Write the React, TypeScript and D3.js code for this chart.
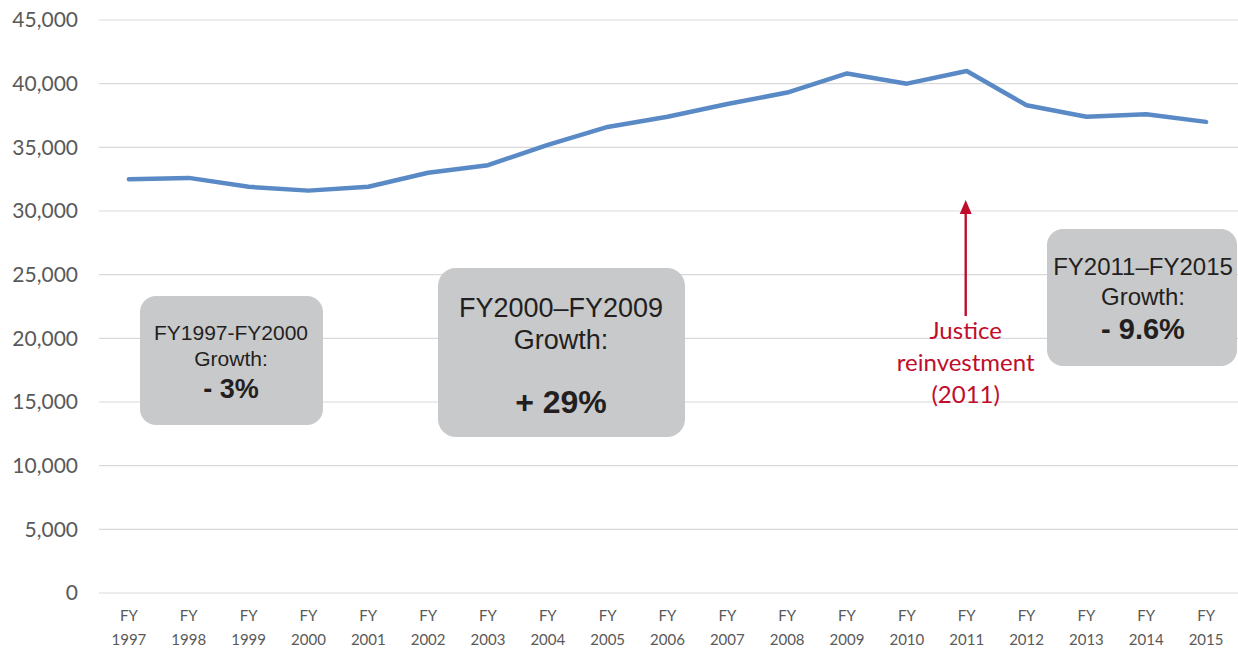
import React from 'react';
import * as d3 from 'd3';

const years = [
  '1997', '1998', '1999', '2000', '2001', '2002', '2003', '2004', '2005', '2006',
  '2007', '2008', '2009', '2010', '2011', '2012', '2013', '2014', '2015',
];
const population = [
  32500, 32600, 31900, 31600, 31900, 33000, 33600, 35200, 36600, 37400,
  38400, 39300, 40800, 40000, 41000, 38300, 37400, 37600, 37000,
];
const yTicks = [0, 5000, 10000, 15000, 20000, 25000, 30000, 35000, 40000, 45000];

const width = 1238;
const height = 651;
const margin = { top: 20, right: 2, bottom: 58, left: 99 };

const boxFill = '#c8c9cb';
const boxText = '#231f20';
const red = '#c00d2b';

const App: React.FC = () => {
  const x = d3
    .scaleBand()
    .domain(years)
    .range([margin.left, width - margin.right])
    .padding(0);

  const y = d3
    .scaleLinear()
    .domain([0, 45000])
    .range([height - margin.bottom, margin.top]);

  const cx = (yr: string) => (x(yr) || 0) + x.bandwidth() / 2;

  const line = d3
    .line<number>()
    .x((_, i) => cx(years[i]))
    .y((d) => y(d));

  const fmt = d3.format(',');
  const arrowX = cx('2011') - 1;
  const tipY = 200;

  return (
    <div style={{ position: 'absolute', left: 0, top: 0 }}>
      <svg width={width} height={height} style={{ display: 'block', background: '#fff' }}>
        {/* gridlines + y labels */}
        {yTicks.map((t) => (
          <g key={t}>
            <line x1={margin.left} x2={width} y1={y(t)} y2={y(t)} stroke="#d9d9d9" strokeWidth={1.2} />
            <text
              x={78}
              y={y(t)}
              dy="0.35em"
              textAnchor="end"
              fontFamily="Lato, 'Open Sans', sans-serif"
              fontSize={21}
              fill="#595959"
            >
              {fmt(t)}
            </text>
          </g>
        ))}

        {/* x labels */}
        {years.map((yr) => (
          <text key={yr} x={cx(yr)} textAnchor="middle" fontFamily="Lato, 'Open Sans', sans-serif" fontSize={15} fill="#595959">
            <tspan x={cx(yr)} y={621}>FY</tspan>
            <tspan x={cx(yr)} y={645}>{yr}</tspan>
          </text>
        ))}

        {/* data line */}
        <path d={line(population) || ''} fill="none" stroke="#5a8ac6" strokeWidth={4.5} strokeLinejoin="round" strokeLinecap="round" />

        {/* box 1 */}
        <rect x={140} y={296} width={183} height={129} rx={16} fill={boxFill} />
        <text textAnchor="middle" fontFamily="'Liberation Sans', Arial, sans-serif" fill={boxText}>
          <tspan x={231} y={340} fontSize={21}>FY1997-FY2000</tspan>
          <tspan x={231} y={366} fontSize={21}>Growth:</tspan>
          <tspan x={231} y={398} fontSize={27} fontWeight="bold">- 3%</tspan>
        </text>

        {/* box 2 */}
        <rect x={438} y={268} width={247} height={169} rx={18} fill={boxFill} />
        <text textAnchor="middle" fontFamily="'Liberation Sans', Arial, sans-serif" fill={boxText}>
          <tspan x={561} y={317} fontSize={27}>FY2000–FY2009</tspan>
          <tspan x={561} y={349} fontSize={27}>Growth:</tspan>
          <tspan x={561} y={413} fontSize={32} fontWeight="bold">+ 29%</tspan>
        </text>

        {/* box 3 */}
        <rect x={1047} y={229} width={190} height={137} rx={16} fill={boxFill} />
        <text textAnchor="middle" fontFamily="'Liberation Sans', Arial, sans-serif" fill={boxText}>
          <tspan x={1143} y={275} fontSize={24}>FY2011–FY2015</tspan>
          <tspan x={1143} y={305} fontSize={24}>Growth:</tspan>
          <tspan x={1143} y={339} fontSize={29} fontWeight="bold">- 9.6%</tspan>
        </text>

        {/* justice reinvestment annotation */}
        <line x1={arrowX} x2={arrowX} y1={316} y2={tipY + 10} stroke={red} strokeWidth={2.4} />
        <path d={`M${arrowX},${tipY} L${arrowX - 6},${tipY + 14} L${arrowX + 6},${tipY + 14} Z`} fill={red} />
        <text textAnchor="middle" fontFamily="Lato, 'Open Sans', sans-serif" fontSize={24} fill={red}>
          <tspan x={arrowX} y={339}>Justice</tspan>
          <tspan x={arrowX} y={371}>reinvestment</tspan>
          <tspan x={arrowX} y={403}>(2011)</tspan>
        </text>
      </svg>
    </div>
  );
};

export default App;
